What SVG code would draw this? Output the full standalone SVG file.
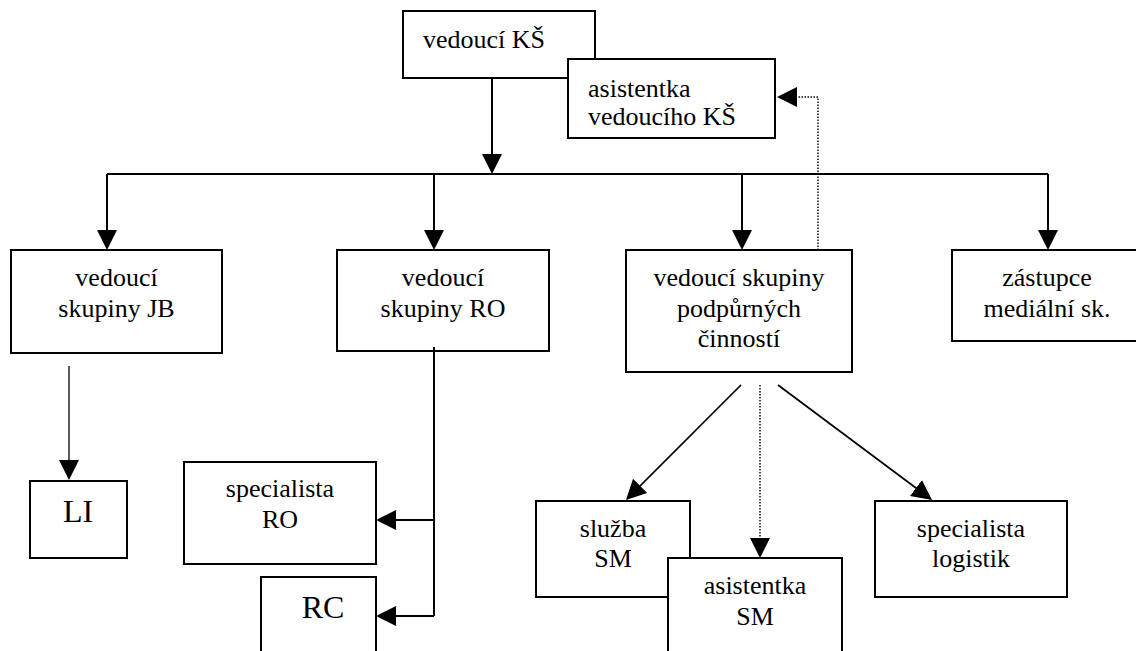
<svg xmlns="http://www.w3.org/2000/svg" width="1136" height="651" viewBox="0 0 1136 651">
<style>
.box{fill:#fff;stroke:#000;stroke-width:2}
text{font-family:"Liberation Serif","Times New Roman",serif;font-size:26px;fill:#000}
.c{text-anchor:middle}
.big{font-size:32px}
.ln{fill:none;stroke:#000;stroke-width:2}
.thin{stroke-width:1.3}
.mid{stroke-width:1.7}
.dot{fill:none;stroke:#000;stroke-width:1.4;stroke-dasharray:1.5 1.5}
</style>
<defs>
<marker id="ah" markerWidth="20" markerHeight="20" refX="18" refY="10" orient="auto" markerUnits="userSpaceOnUse">
<path d="M0,0 L20,10 L0,20 z" fill="#000"/>
</marker>
</defs>
<rect width="1136" height="651" fill="#fff"/>
<g id="vedouci-ks"><rect class="box" x="403" y="11" width="192" height="67"/><text x="423" y="48">vedoucí KŠ</text></g>
<g id="asistentka-vks"><rect class="box" x="568" y="59" width="207" height="79"/><text x="588" y="97">asistentka</text><text x="588" y="125">vedoucího KŠ</text></g>
<g id="vedouci-jb"><rect class="box" x="11" y="250" width="211" height="103"/><text class="c" x="116.5" y="286">vedoucí</text><text class="c" x="116.5" y="317">skupiny JB</text></g>
<g id="vedouci-ro"><rect class="box" x="337" y="250" width="212" height="101"/><text class="c" x="443" y="286">vedoucí</text><text class="c" x="443" y="317">skupiny RO</text></g>
<g id="vedouci-pc"><rect class="box" x="626" y="250" width="226" height="122"/><text class="c" x="739" y="286">vedoucí skupiny</text><text class="c" x="739" y="317">podpůrných</text><text class="c" x="739" y="347">činností</text></g>
<g id="zastupce"><rect class="box" x="952" y="250" width="191" height="91"/><text class="c" x="1047" y="286">zástupce</text><text class="c" x="1047" y="317">mediální sk.</text></g>
<g id="li"><rect class="box" x="30" y="481" width="97" height="77"/><text class="c big" x="78" y="522">LI</text></g>
<g id="specialista-ro"><rect class="box" x="184" y="462" width="192" height="102"/><text class="c" x="280" y="497">specialista</text><text class="c" x="280" y="528">RO</text></g>
<g id="rc"><rect class="box" x="261" y="577" width="115" height="90"/><text class="c big" x="323" y="618">RC</text></g>
<g id="sluzba-sm"><rect class="box" x="536" y="501" width="154" height="96"/><text class="c" x="613" y="537">služba</text><text class="c" x="613" y="567">SM</text></g>
<g id="asistentka-sm"><rect class="box" x="668" y="558" width="174" height="110"/><text class="c" x="755" y="594">asistentka</text><text class="c" x="755" y="625">SM</text></g>
<g id="specialista-log"><rect class="box" x="875" y="501" width="192" height="96"/><text class="c" x="971" y="537">specialista</text><text class="c" x="971" y="567">logistik</text></g>
<g id="connectors">
<path class="ln" d="M492,78 V172" marker-end="url(#ah)"/>
<path class="ln" d="M107,174 H1048"/>
<path class="ln" d="M107,174 V248" marker-end="url(#ah)"/>
<path class="ln" d="M434,174 V248" marker-end="url(#ah)"/>
<path class="ln" d="M742,174 V248" marker-end="url(#ah)"/>
<path class="ln" d="M1048,174 V248" marker-end="url(#ah)"/>
<path class="dot" d="M818,250 V97 H779" marker-end="url(#ah)"/>
<path class="ln thin" d="M69,366 V478" marker-end="url(#ah)"/>
<path class="ln" d="M434,347 V616"/>
<path class="ln" d="M434,520 H378" marker-end="url(#ah)"/>
<path class="ln" d="M434,616 H378" marker-end="url(#ah)"/>
<path class="ln mid" d="M741,385 L627.4,498.6" marker-end="url(#ah)"/>
<path class="dot" d="M760,385 V556" marker-end="url(#ah)"/>
<path class="ln mid" d="M778,385 L930.4,498.8" marker-end="url(#ah)"/>
</g>
</svg>
